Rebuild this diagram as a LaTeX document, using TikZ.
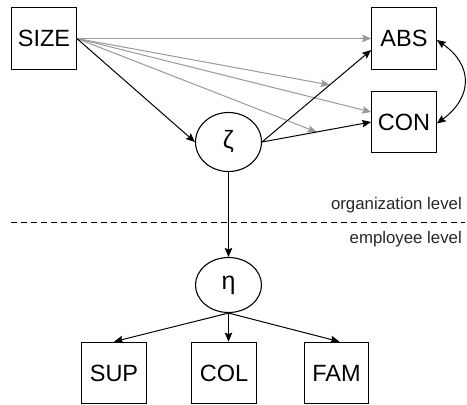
\documentclass[tikz,border=0pt]{standalone}
\usepackage{fontspec}
\setmainfont{Liberation Sans}
\usetikzlibrary{arrows.meta,shapes.geometric,calc}
\definecolor{arrgray}{HTML}{999999}
\begin{document}
\begin{tikzpicture}[x=1pt,y=-1pt,
  box/.style={draw,line width=1.2pt,minimum width=64.5pt,minimum height=61.5pt,inner sep=0pt,font=\fontsize{23.5}{26}\selectfont},
  latent/.style={draw,ellipse,line width=1.1pt,inner sep=0pt,font=\fontsize{25}{27}\selectfont},
  conn/.style={line width=1pt,-{Stealth[length=9pt,width=7.5pt,inset=1.5pt]}},
  grayconn/.style={conn,draw=arrgray,-{Stealth[length=9pt,width=7.5pt,inset=1.5pt,color=arrgray]}},
  lvl/.style={font=\fontsize{16.8}{18}\selectfont,text=black!85,inner sep=0pt}]
\useasboundingbox (0,0) rectangle (467,405);
\node[box] (SIZE) at (44,38.5) {SIZE};
\node[box] (ABS) at (404,38.5) {ABS};
\node[box] (CON) at (404,122) {CON};
\node[latent,minimum width=66pt,minimum height=59pt] (zeta) at (228.5,142) {ζ};
\node[latent,minimum width=66pt,minimum height=55pt] (eta) at (228.5,285) {η};
\node[box] (SUP) at (114,373) {SUP};
\node[box] (COL) at (224,373) {COL};
\node[box] (FAM) at (336.5,373) {FAM};
% level separation
\coordinate (dl) at (11,222);
\coordinate (dr) at (465,222);
\draw[dash pattern=on 6pt off 4pt,line width=0.7pt] (dl) -- (dr);
\node[lvl,anchor=base east] (org) at (462,209) {organization level};
\node[lvl,anchor=base east] (emp) at (462,243) {employee level};
% paths
\coordinate (absin) at ([yshift=-11.5pt]ABS.west);
\coordinate (m1) at ($(zeta.east)!0.62!(absin)$);
\coordinate (m2) at ($(zeta.east)!0.5!(CON.west)$);
\draw[grayconn] (SIZE.east) -- (ABS.west);
\draw[grayconn] (SIZE.east) -- (m1);
\draw[grayconn] (SIZE.east) -- ([yshift=10pt]CON.west);
\draw[grayconn] (SIZE.east) -- (m2);
\draw[conn] (SIZE.east) -- (zeta.west);
\draw[conn] (zeta.east) -- (absin);
\draw[conn] (zeta.east) -- (CON.west);
\draw[line width=1pt,{Stealth[length=9pt,width=7.5pt,inset=1.5pt]}-{Stealth[length=9pt,width=7.5pt,inset=1.5pt]}]
  ([yshift=-1.5pt]ABS.east) .. controls (473,65) and (473,97) .. ([yshift=-1.5pt]CON.east);
\draw[conn] (zeta.south) -- (eta.north);
\draw[conn] (eta.south) -- (SUP.north);
\draw[conn] (eta.south) -- (eta.south |- COL.north);
\draw[conn] (eta.south) -- ([xshift=3pt]FAM.north);
\end{tikzpicture}
\end{document}
